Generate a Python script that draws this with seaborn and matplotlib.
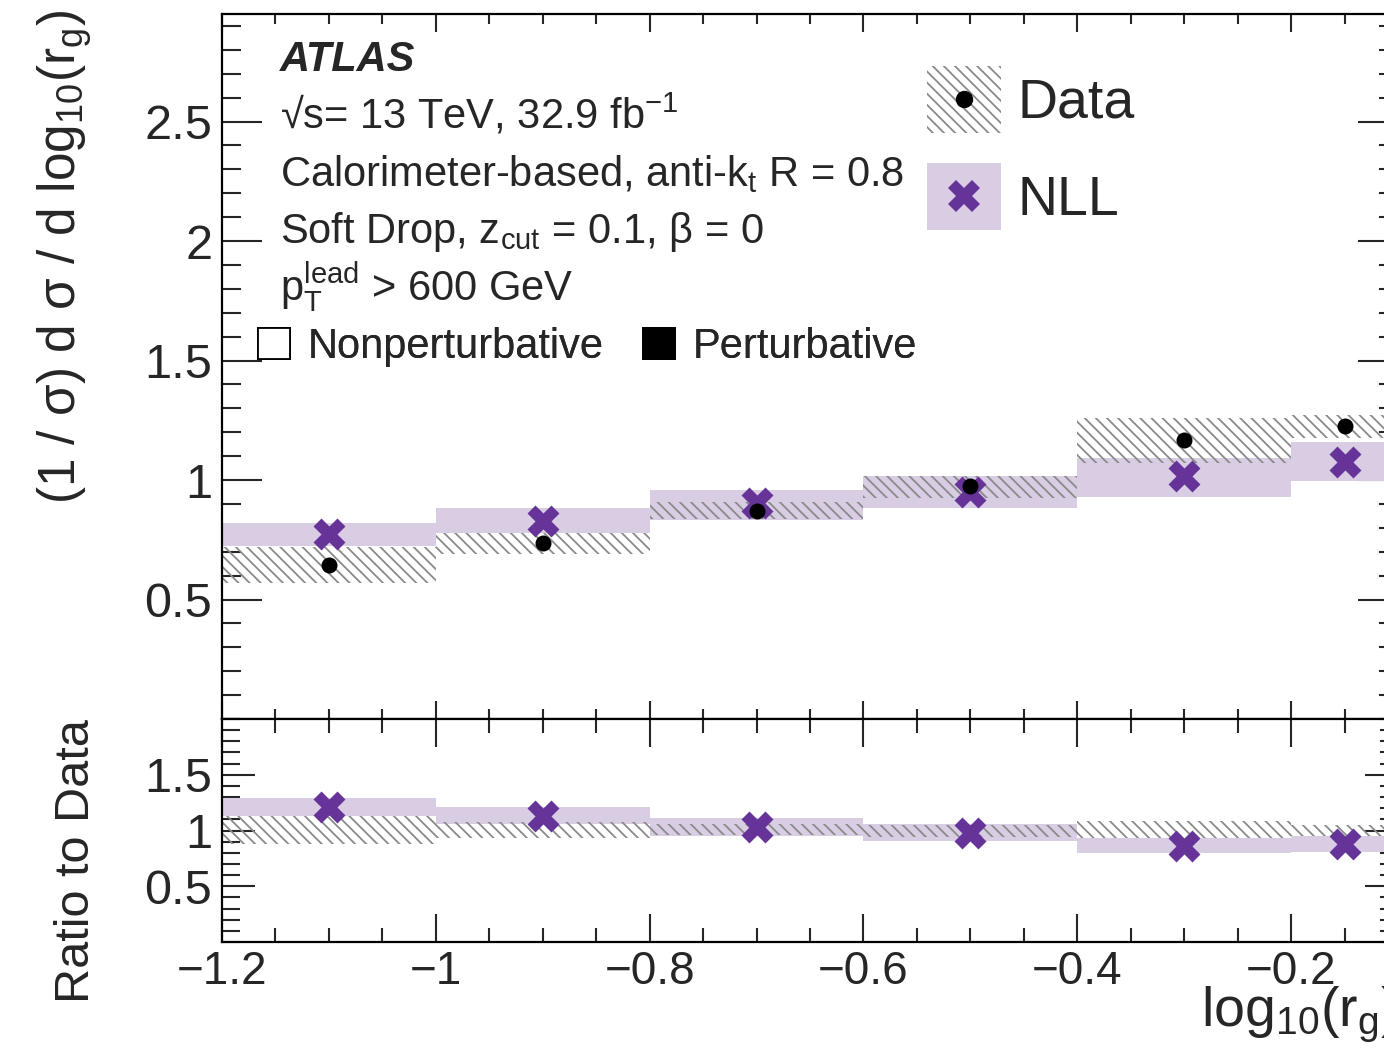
import numpy as np
import pandas as pd
import matplotlib
matplotlib.use("Agg")
import matplotlib.pyplot as plt
import seaborn as sns
from matplotlib.patches import Patch
from matplotlib.lines import Line2D
from matplotlib.legend_handler import HandlerTuple, HandlerLine2D
from matplotlib.ticker import FixedLocator, MultipleLocator, FuncFormatter

# ---------------- data ----------------
bin_lo = [-1.2, -1.0, -0.8, -0.6, -0.4, -0.2]
bin_hi = [-1.0, -0.8, -0.6, -0.4, -0.2, -0.1]

data_val = [0.646, 0.738, 0.872, 0.973, 1.169, 1.224]
data_lo = [0.571, 0.692, 0.835, 0.923, 1.073, 1.174]
data_hi = [0.718, 0.780, 0.906, 1.015, 1.261, 1.274]

nll_val = [0.776, 0.830, 0.902, 0.948, 1.015, 1.077]
nll_lo = [0.722, 0.780, 0.831, 0.881, 0.931, 0.994]
nll_hi = [0.822, 0.885, 0.960, 1.015, 1.094, 1.161]

ratio_nll_val = [1.207, 1.126, 1.027, 0.982, 0.865, 0.883]
ratio_nll_lo = [1.126, 1.054, 0.955, 0.910, 0.802, 0.811]
ratio_nll_hi = [1.288, 1.207, 1.108, 1.054, 0.937, 0.955]
ratio_data_lo = [0.883, 0.937, 0.964, 0.946, 0.937, 0.955]
ratio_data_hi = [1.126, 1.072, 1.054, 1.045, 1.081, 1.045]

x_major = [-1.2, -1.0, -0.8, -0.6, -0.4, -0.2]
main_y_major = [0.5, 1.0, 1.5, 2.0, 2.5]
ratio_y_major = [0.5, 1.0, 1.5]

# ---------------- style ----------------
sns.set_theme(style="white")
plt.rcParams["font.family"] = ["Liberation Sans", "DejaVu Sans"]
plt.rcParams["mathtext.fontset"] = "custom"
plt.rcParams["mathtext.rm"] = "Liberation Sans"
plt.rcParams["mathtext.it"] = "Liberation Sans:italic"
plt.rcParams["mathtext.bf"] = "Liberation Sans:bold"
plt.rcParams["mathtext.sf"] = "Liberation Sans"
plt.rcParams["mathtext.default"] = "regular"
plt.rcParams["hatch.linewidth"] = 1.3
plt.rcParams["axes.unicode_minus"] = True

PURPLE = "#663399"
LAVENDER = "#d9cde4"
HATCH_C = "#8a8a8a"
HATCH = "\\\\\\"

W, H = 1384, 1059
fig = plt.figure(figsize=(W / 100, H / 100), dpi=100)
fig.patch.set_facecolor("white")

ax_l, ax_r = 222, 1398
ax = fig.add_axes([ax_l / W, 1 - 719 / H, (ax_r - ax_l) / W, (719 - 14) / H])
rax = fig.add_axes([ax_l / W, 1 - 942 / H, (ax_r - ax_l) / W, (942 - 719) / H], sharex=ax)

centers = [(a + b) / 2 for a, b in zip(bin_lo, bin_hi)]
widths = [b - a for a, b in zip(bin_lo, bin_hi)]

df = pd.DataFrame({
    "x": centers, "data": data_val, "nll": nll_val, "ratio": ratio_nll_val,
})

# ---------------- main panel ----------------
ax.bar(bin_lo, np.subtract(nll_hi, nll_lo), bottom=nll_lo, width=widths,
       align="edge", color=LAVENDER, linewidth=0, zorder=1)
ax.bar(bin_lo, np.subtract(data_hi, data_lo), bottom=data_lo, width=widths,
       align="edge", facecolor="none", edgecolor=HATCH_C, hatch=HATCH,
       linewidth=0, zorder=2)
sns.scatterplot(data=df, x="x", y="nll", ax=ax, marker="X", s=23 ** 2,
                color=PURPLE, linewidth=0, zorder=3, legend=False)
sns.scatterplot(data=df, x="x", y="data", ax=ax, marker="o", s=11.5 ** 2,
                color="black", linewidth=0, zorder=4, legend=False)

# ---------------- ratio panel ----------------
rax.bar(bin_lo, np.subtract(ratio_nll_hi, ratio_nll_lo), bottom=ratio_nll_lo,
        width=widths, align="edge", color=LAVENDER, linewidth=0, zorder=1)
rax.bar(bin_lo, np.subtract(ratio_data_hi, ratio_data_lo), bottom=ratio_data_lo,
        width=widths, align="edge", facecolor="none", edgecolor=HATCH_C,
        hatch=HATCH, linewidth=0, zorder=2)
sns.scatterplot(data=df, x="x", y="ratio", ax=rax, marker="X", s=23 ** 2,
                color=PURPLE, linewidth=0, zorder=3, legend=False)

# ---------------- axes formatting ----------------
fmt = FuncFormatter(lambda v, p: f"{v:g}".replace("-", "\u2212"))

ax.set_xlim(-1.2, -0.1)
ax.set_ylim(0, 2.95)
rax.set_ylim(0, 2.0)

for a in (ax, rax):
    for s in a.spines.values():
        s.set_visible(True)
        s.set_color("black")
        s.set_linewidth(1.6)
    a.xaxis.set_major_locator(FixedLocator(x_major))
    a.xaxis.set_minor_locator(MultipleLocator(0.05))
    a.yaxis.set_minor_locator(MultipleLocator(0.1))
    a.yaxis.set_major_formatter(fmt)
    a.xaxis.set_major_formatter(fmt)
    a.set_xlabel("")
    a.set_ylabel("")

ax.yaxis.set_major_locator(FixedLocator(main_y_major))
rax.yaxis.set_major_locator(FixedLocator(ratio_y_major))

ax.tick_params(axis="x", which="major", direction="in", length=13, width=1.5,
               top=True, bottom=True, labelbottom=False)
ax.tick_params(axis="x", which="minor", direction="in", length=7, width=1.5,
               top=True, bottom=True)
ax.tick_params(axis="y", which="major", direction="in", length=29, width=1.5,
               left=True, right=True, labelsize=35, pad=7)
ax.tick_params(axis="y", which="minor", direction="in", length=14, width=1.5,
               left=True, right=True)

rax.tick_params(axis="x", which="major", direction="in", length=20, width=1.5,
                top=True, bottom=True, labelbottom=True, labelsize=33, pad=6)
rax.tick_params(axis="x", which="minor", direction="in", length=10, width=1.5,
                top=True, bottom=True)
rax.tick_params(axis="y", which="major", direction="in", length=24, width=1.5,
                left=True, right=True, labelsize=35, pad=7)
rax.tick_params(axis="y", which="minor", direction="in", length=13, width=1.5,
                left=True, right=True)

# axis titles
ax.set_ylabel(r"(1 / σ) d σ / d log$_{10}$(r$_{g}$)", fontsize=37, loc="top")
ax.yaxis.set_label_coords(-0.1085, 1.006)
rax.set_ylabel("Ratio to Data", fontsize=35, loc="top")
rax.yaxis.set_label_coords(-0.105, 1.0)
rax.set_xlabel(r"log$_{10}$(r$_{g}$)", fontsize=40, loc="right")
rax.xaxis.set_label_coords(1.0, -0.19)

# ---------------- annotations ----------------
tx = 280 / W
fig.text(tx, 1 - 71 / H, "ATLAS", fontsize=30, fontweight="bold",
         fontstyle="italic", va="baseline")
fig.text(tx, 1 - 128 / H, "\u221as= 13 TeV, 32.9 fb$^{-1}$", fontsize=30,
         va="baseline")
fig.text(tx, 1 - 186 / H, r"Calorimeter-based, anti-k$_{t}$ R = 0.8",
         fontsize=30, va="baseline")
fig.text(tx, 1 - 243 / H, r"Soft Drop, z$_{cut}$ = 0.1, β = 0", fontsize=30,
         va="baseline")
fig.text(tx, 1 - 300 / H, r"p$_{T}^{lead}$ > 600 GeV", fontsize=30,
         va="baseline")


class CenteredMarker(HandlerLine2D):
    """Marker placed at the vertical centre of the legend box."""

    def create_artists(self, legend, orig_handle, xdescent, ydescent, width,
                       height, fontsize, trans):
        arts = super().create_artists(legend, orig_handle, xdescent, ydescent,
                                      width, height, fontsize, trans)
        for a in arts:
            yd = np.asarray(a.get_ydata(), dtype=float)
            a.set_ydata(np.full_like(yd, -ydescent + height / 2.0))
        return arts


# legend: Data / NLL
fs1 = 40 * 100 / 72
hh1 = 1.477
h_data = (Patch(facecolor="white", edgecolor=HATCH_C, hatch=HATCH, linewidth=0),
          Line2D([], [], marker="o", ms=11.5, color="black", linestyle="none"))
h_nll = (Patch(facecolor=LAVENDER, edgecolor="none", linewidth=0),
         Line2D([], [], marker="X", ms=23, color=PURPLE, mew=0, linestyle="none"))
leg1 = ax.legend([h_data, h_nll], ["Data", "NLL"],
                 handler_map={tuple: HandlerTuple(ndivide=1, pad=0),
                              Line2D: CenteredMarker()},
                 loc="upper left", bbox_to_anchor=(927 / W, 1 - 66 / H),
                 bbox_transform=fig.transFigure, frameon=False, fontsize=40,
                 handlelength=74 / fs1, handleheight=hh1,
                 handletextpad=17 / fs1, labelspacing=0.54,
                 borderpad=0, borderaxespad=0)
ax.add_artist(leg1)

# legend: Nonperturbative / Perturbative
fs2 = 30 * 100 / 72
h_np = Patch(facecolor="white", edgecolor="black", linewidth=1.3)
h_p = Patch(facecolor="black", edgecolor="black", linewidth=1.3)
leg2 = ax.legend([h_np, h_p], ["Nonperturbative", "Perturbative"], ncol=2,
                 loc="upper left", bbox_to_anchor=(258 / W, 1 - 327 / H),
                 bbox_transform=fig.transFigure, frameon=False, fontsize=30,
                 handlelength=32 / fs2, handleheight=31 / fs2,
                 handletextpad=18 / fs2, columnspacing=39 / fs2,
                 borderpad=0, borderaxespad=0)
ax.add_artist(leg2)

fig.savefig("out.png", dpi=100)
